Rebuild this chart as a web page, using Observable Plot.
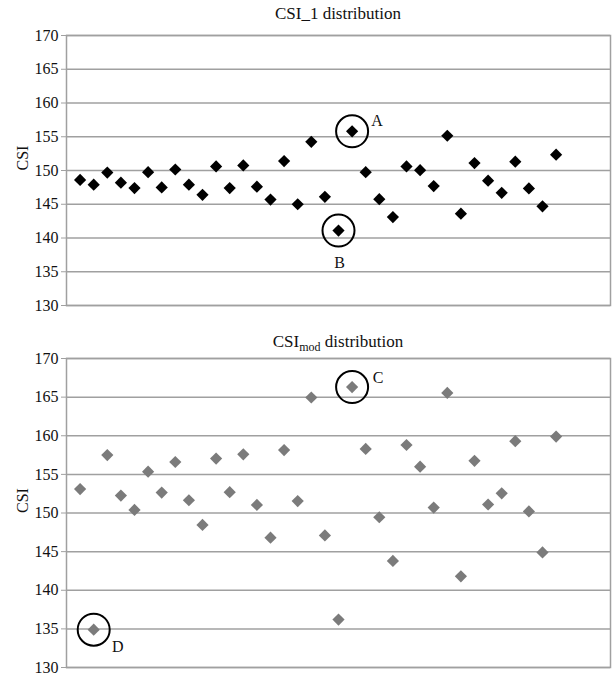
<!DOCTYPE html>
<html><head><meta charset="utf-8">
<script src="https://cdn.jsdelivr.net/npm/d3@7"></script>
<script src="https://cdn.jsdelivr.net/npm/@observablehq/plot@0.6"></script>
<style>
body{margin:0;background:#fff;}
#wrap{position:relative;width:615px;height:676px;font-family:"Liberation Serif","Times New Roman",serif;color:#111;}
#wrap svg, #wrap svg text{font-family:"Liberation Serif","Times New Roman",serif !important;font-variant:normal !important;}
.title{position:absolute;left:66px;width:544px;text-align:center;font-size:17px;line-height:17px;white-space:nowrap;}
.title sub{font-size:12px;vertical-align:-4px;line-height:0;}
svg{display:block}
</style></head><body><div id="wrap"></div>
<script>
// sample index (x)
const sample = [1,2,3,4,5,6,7,8,9,10,11,12,13,14,15,16,17,18,19,20,21,22,23,24,25,26,27,28,29,30,31,32,33,34,35,36];
// CSI_1 values
const csi1 = [148.6,147.9,149.7,148.2,147.4,149.75,147.5,150.15,147.9,146.4,150.6,147.4,150.75,147.6,145.7,151.4,145.0,154.25,146.1,141.1,155.8,149.75,145.75,143.1,150.6,150.05,147.7,155.15,143.6,151.1,148.5,146.7,151.3,147.35,144.7,152.35];
// CSI_mod values
const csiMod = [153.1,134.9,157.5,152.25,150.4,155.35,152.65,156.6,151.65,148.45,157.05,152.7,157.6,151.05,146.8,158.15,151.55,164.95,147.1,136.2,166.3,158.3,149.45,143.8,158.8,156.0,150.7,165.55,141.8,156.75,151.1,152.55,159.3,150.2,144.9,159.9];
const yTicks = [130,135,140,145,150,155,160,165,170];
const annTopLabels = ["A","B"];
const annTopIndex = [21,20];
const annBotLabels = ["C","D"];
const annBotIndex = [21,2];
const serif = "Liberation Serif";

function panel(values, color, labels, indexes, offsets, height, mt, mb) {
  const data = sample.map((s, i) => ({x: s, y: values[i]}));
  const ann = labels.map((l, i) => ({label: l, x: sample[indexes[i]-1], y: values[indexes[i]-1], dx: offsets[i][0], dy: offsets[i][1]}));
  return Plot.plot({
    width: 615, height, marginLeft: 66, marginRight: 5, marginTop: mt, marginBottom: mb,
    style: {fontFamily: serif, fontSize: "16px", color: "#111", background: "white"},
    x: {domain: [0, 40], axis: null},
    y: {domain: [130, 170]},
    marks: [
      Plot.gridY(yTicks, {stroke: "#a0a0a0", strokeOpacity: 1, strokeWidth: 1.5}),
      Plot.frame({stroke: "#a0a0a0", strokeWidth: 1.5}),
      Plot.axisY({ticks: yTicks, tickSize: 5, tickPadding: 3, stroke: "#a0a0a0", fill: "#111", label: null, fontSize: 16, fontFamily: serif}),
      Plot.text(["CSI"], {frameAnchor: "left", dx: -44, rotate: -90, fontSize: 16, fontFamily: serif, fill: "#111"}),
      Plot.dot(data, {x: "x", y: "y", symbol: "diamond2", r: 5.5, fill: color, stroke: "none"}),
      Plot.dot(ann, {x: "x", y: "y", r: 16, stroke: "black", strokeWidth: 2, fill: "none"}),
      ...ann.map(a => Plot.text([a], {x: "x", y: "y", text: "label", dx: a.dx, dy: a.dy, fontSize: 16, fontFamily: serif, fill: "#111"}))
    ]
  });
}

const wrap = document.getElementById("wrap");
const t1 = document.createElement("div");
t1.className = "title"; t1.style.top = "5px"; t1.textContent = "CSI_1 distribution";
const t2 = document.createElement("div");
t2.className = "title"; t2.style.top = "333px"; t2.innerHTML = "CSI<sub>mod</sub> distribution";
const p1 = panel(csi1, "black", annTopLabels, annTopIndex, [[25,-10],[1,32]], 320, 35, 15);
const p2 = panel(csiMod, "#7b7b7b", annBotLabels, annBotIndex, [[26,-9],[24,17]], 356, 38, 9);
wrap.appendChild(p1);
wrap.appendChild(p2);
wrap.appendChild(t1);
wrap.appendChild(t2);
</script></body></html>
